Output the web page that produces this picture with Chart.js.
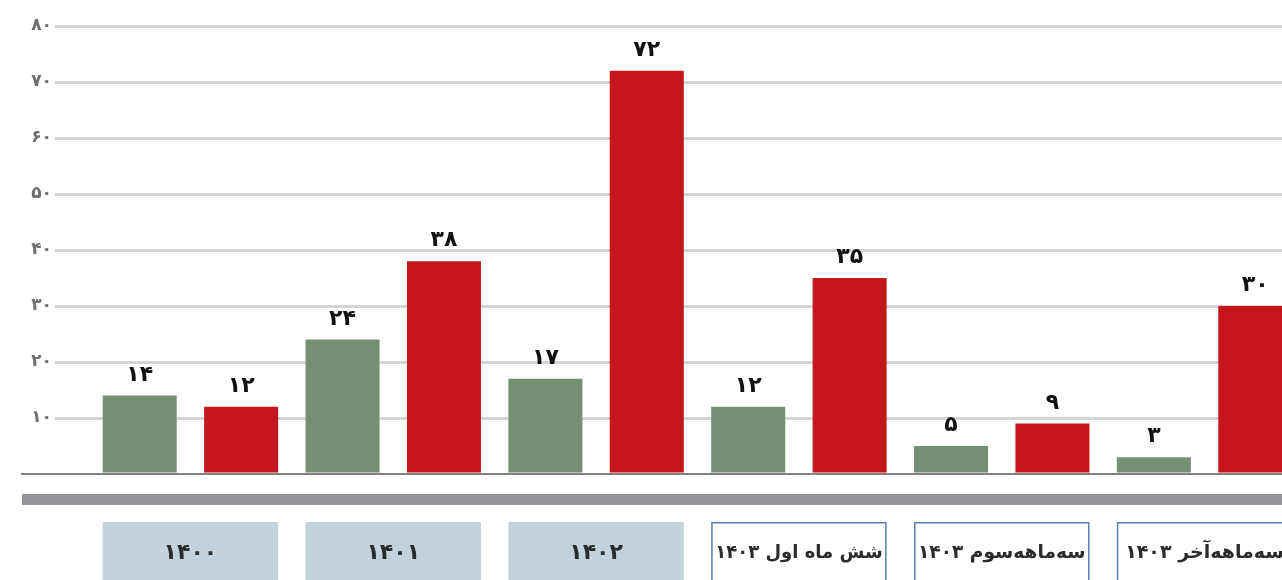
<!DOCTYPE html>
<html>
<head>
<meta charset="utf-8">
<script src="https://cdn.jsdelivr.net/npm/chart.js@4.4.1/dist/chart.umd.min.js"></script>
<style>
html, body { margin: 0; padding: 0; background: #fff; overflow: hidden; }
#wrap { width: 1310px; height: 580px; }
</style>
</head>
<body>
<div id="wrap"><canvas id="myChart"></canvas></div>
<script>
const categories = ['۱۴۰۰', '۱۴۰۱', '۱۴۰۲', 'شش ماه اول ۱۴۰۳', 'سه‌ماهه‌سوم ۱۴۰۳', 'سه‌ماهه‌آخر ۱۴۰۳'];
const greenValues = [14, 24, 17, 12, 5, 3];
const redValues = [12, 38, 72, 35, 9, 30];
const yTickLabels = ['', '۱۰', '۲۰', '۳۰', '۴۰', '۵۰', '۶۰', '۷۰', '۸۰'];
const filledBoxes = [true, true, true, false, false, false];

const faDigits = '۰۱۲۳۴۵۶۷۸۹';
function toFa(n) {
    return String(n).replace(/\d/g, d => faDigits[d]);
}

const FONT = "'DejaVu Sans', sans-serif";

const decorPlugin = {
    id: 'decor',
    beforeDatasetsDraw(chart) {
        const ctx = chart.ctx;
        const y0 = chart.scales.y.getPixelForValue(0);
        ctx.save();
        ctx.strokeStyle = '#808080';
        ctx.lineWidth = 2;
        ctx.beginPath();
        ctx.moveTo(21, y0);
        ctx.lineTo(chart.width, y0);
        ctx.stroke();
        ctx.restore();
    },
    afterDatasetsDraw(chart) {
        const ctx = chart.ctx;
        ctx.save();
        ctx.font = 'bold 22px ' + FONT;
        ctx.fillStyle = '#111';
        ctx.textAlign = 'center';
        ctx.textBaseline = 'alphabetic';
        chart.data.datasets.forEach((ds, di) => {
            chart.getDatasetMeta(di).data.forEach((bar, i) => {
                ctx.fillText(toFa(ds.data[i]), bar.x, bar.y - 15);
            });
        });
        ctx.restore();
    },
    afterDraw(chart) {
        const ctx = chart.ctx;
        const y0 = chart.scales.y.getPixelForValue(0);
        ctx.save();
        // grey band under the axis
        ctx.fillStyle = '#939598';
        ctx.fillRect(22, y0 + 20, chart.width - 22, 11);
        // category boxes
        const g = chart.getDatasetMeta(0).data;
        const r = chart.getDatasetMeta(1).data;
        categories.forEach((cat, i) => {
            const left = g[i].x - g[i].width / 2;
            const right = r[i].x + r[i].width / 2;
            const top = y0 + 48;
            const h = 70;
            if (filledBoxes[i]) {
                ctx.fillStyle = '#c4d2dc';
                ctx.fillRect(left, top, right - left, h);
                ctx.font = 'bold 22px ' + FONT;
            } else {
                ctx.strokeStyle = '#5b7fb0';
                ctx.lineWidth = 1.5;
                ctx.strokeRect(left + 0.75, top + 0.75, right - left - 1.5, h);
                ctx.font = 'bold 19px ' + FONT;
            }
            ctx.fillStyle = '#2b2b2b';
            ctx.textAlign = 'center';
            ctx.textBaseline = 'middle';
            ctx.direction = 'rtl';
            ctx.fillText(cat, (left + right) / 2, top + 31, right - left - 8);
        });
        ctx.restore();
    }
};

const ctx = document.getElementById('myChart').getContext('2d');
const chart = new Chart(ctx, {
    type: 'bar',
    data: {
        labels: categories,
        datasets: [{
            data: greenValues,
            backgroundColor: '#738f74',
            barPercentage: 0.73,
            categoryPercentage: 1.0
        }, {
            data: redValues,
            backgroundColor: '#c5161d',
            barPercentage: 0.73,
            categoryPercentage: 1.0
        }]
    },
    options: {
        responsive: true,
        maintainAspectRatio: false,
        animation: false,
        layout: { padding: { top: 26, bottom: 106, left: 0, right: 4 } },
        plugins: { legend: { display: false }, tooltip: { enabled: false } },
        scales: {
            x: { display: false },
            y: {
                min: 0,
                max: 80,
                border: { display: false },
                afterFit: s => { s.width = 89; },
                ticks: {
                    stepSize: 10,
                    padding: 3,
                    color: '#6d6e71',
                    font: { family: FONT, size: 17, weight: 'bold' },
                    callback: v => yTickLabels[v / 10]
                },
                grid: {
                    color: c => c.tick && c.tick.value === 0 ? 'rgba(0,0,0,0)' : '#d4d4d4',
                    lineWidth: 3,
                    tickLength: 34,
                    drawTicks: true
                }
            }
        }
    },
    plugins: [decorPlugin]
});
</script>
</body>
</html>
